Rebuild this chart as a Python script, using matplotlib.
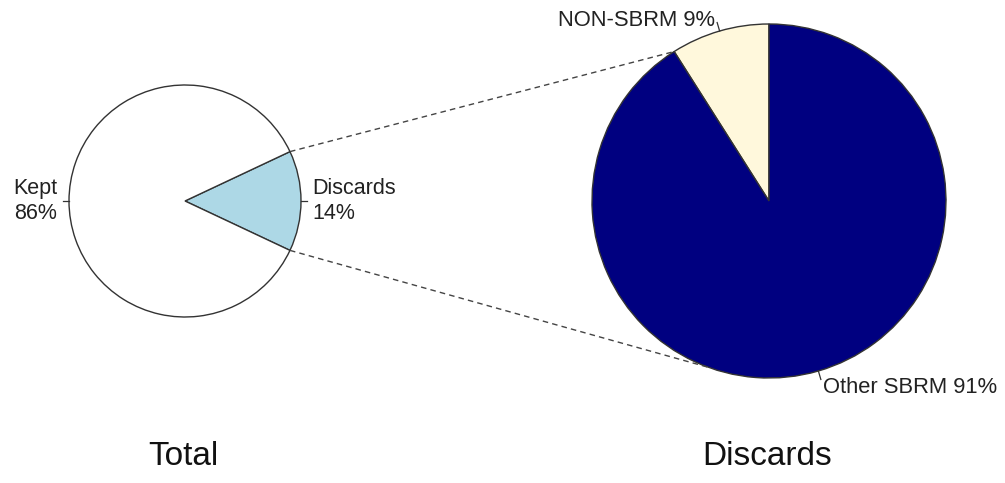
import numpy as np
import matplotlib
matplotlib.use("Agg")
import matplotlib.pyplot as plt

plt.rcParams['font.family'] = ['Liberation Sans', 'DejaVu Sans']

# data
total_labels = ['Discards', 'Kept']
total_pct = [14, 86]
total_colors = ['lightblue', 'white']

disc_labels = ['NON-SBRM', 'Other SBRM']
disc_pct = [9, 91]
disc_colors = ['cornsilk', 'navy']

W, H = 1005, 483
fig = plt.figure(figsize=(W / 100, H / 100), dpi=100)
ax = fig.add_axes([0, 0, 1, 1])

edge = '#333333'
c1, r1 = (185, H - 201), 116
c2, r2 = (769, H - 201), 177

# left pie: discards slice centred on the right side
start1 = -total_pct[0] / sum(total_pct) * 360 / 2
w1, t1 = ax.pie(total_pct, colors=total_colors, center=c1, radius=r1,
                startangle=start1, counterclock=True,
                labels=[f'{l}\n{p}%' for l, p in zip(total_labels, total_pct)],
                labeldistance=1.1,
                wedgeprops=dict(edgecolor=edge, linewidth=1),
                textprops=dict(fontsize=15.5, color='#222222', linespacing=1.3))

w2, t2 = ax.pie(disc_pct, colors=disc_colors, center=c2, radius=r2,
                startangle=90, counterclock=True,
                labels=[f'{l} {p}%' for l, p in zip(disc_labels, disc_pct)],
                labeldistance=1.1,
                wedgeprops=dict(edgecolor=edge, linewidth=1),
                textprops=dict(fontsize=15.8, color='#222222'))

# small tick marks from pie edge to labels, and fix label alignment
for wedges, texts, c, r in [(w1, t1, c1, r1), (w2, t2, c2, r2)]:
    for w, t in zip(wedges, texts):
        a = np.deg2rad((w.theta1 + w.theta2) / 2)
        ax.plot([c[0] + r * np.cos(a), c[0] + 1.05 * r * np.cos(a)],
                [c[1] + r * np.sin(a), c[1] + 1.05 * r * np.sin(a)],
                color=edge, lw=0.9)
        t.set_ha('left' if np.cos(a) > 0 else 'right')
        t.set_va('center')
# top label sits a little lower in the original
t2[0].set_y(t2[0].get_position()[1] - 6)

# dashed connectors
def pt(c, r, ang):
    a = np.deg2rad(ang)
    return c[0] + r * np.cos(a), c[1] + r * np.sin(a)

pairs = [(pt(c1, r1, w1[0].theta2), pt(c2, r2, w2[0].theta2)),
         (pt(c1, r1, w1[0].theta1), pt(c2, r2, 250))]
for p, q in pairs:
    ax.plot([p[0], q[0]], [p[1], q[1]], color='#444444', lw=1, ls=(0, (4, 3)))

ax.text(c1[0] - 2, H - 465, 'Total', fontsize=24, ha='center', va='baseline', color='#111111')
ax.text(c2[0] - 2, H - 465, 'Discards', fontsize=24, ha='center', va='baseline', color='#111111')

ax.set_xlim(0, W)
ax.set_ylim(0, H)
ax.set_aspect('equal')
ax.axis('off')

fig.savefig('out.png', dpi=100, facecolor='white')
